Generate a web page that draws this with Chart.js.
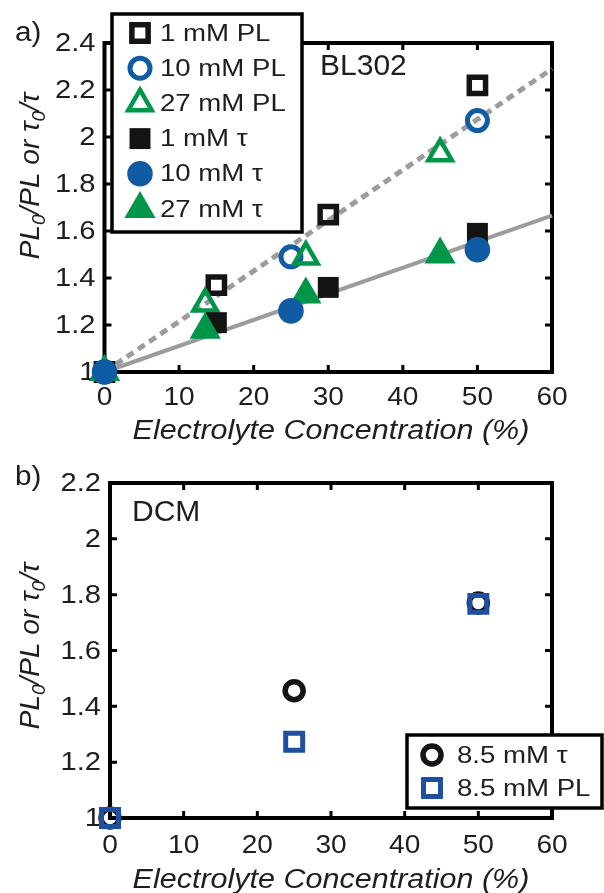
<!DOCTYPE html>
<html><head><meta charset="utf-8">
<script src="https://cdn.jsdelivr.net/npm/chart.js@4.4.1/dist/chart.umd.min.js"></script>
<style>
html,body{margin:0;padding:0;background:#fff;}
#wrap{position:relative;width:604px;height:893px;overflow:hidden;background:#fff;}
canvas{position:absolute;left:0;}
#c1{top:0}
#c2{top:440px}
</style></head><body>
<div id="wrap"><canvas id="c1" width="604" height="460"></canvas><canvas id="c2" width="604" height="453"></canvas></div>
<script>
// ---------------- data ----------------
const xTicks = [0,10,20,30,40,50,60];
const xTickLabels = ['0','10','20','30','40','50','60'];
const yTicksA = [1,1.2,1.4,1.6,1.8,2,2.2,2.4];
const yTickLabelsA = ['1','1.2','1.4','1.6','1.8','2','2.2','2.4'];
const yTicksB = [1,1.2,1.4,1.6,1.8,2,2.2];
const yTickLabelsB = ['1','1.2','1.4','1.6','1.8','2','2.2'];

// panel a) BL302
const conc1mM  = [0,15,30,50];
const pl1mM    = [1,1.37,1.67,2.22];
const tau1mM   = [1,1.21,1.36,1.59];
const conc10mM = [0,25,50];
const pl10mM   = [1,1.49,2.07];
const tau10mM  = [1,1.26,1.52];
const conc27mM = [0,13.5,27,45];
const pl27mM   = [1,1.29,1.49,1.93];
const tau27mM  = [1,1.18,1.33,1.50];
const fitX     = [0,60];
const fitPL    = [1,2.29];
const fitTau   = [1,1.665];

// panel b) DCM
const concDCM = [0,25,50];
const tauDCM  = [1,1.456,1.77];
const plDCM   = [1,1.273,1.767];

const legendA = ['1 mM PL','10 mM PL','27 mM PL','1 mM τ','10 mM τ','27 mM τ'];
const legendB = ['8.5 mM τ','8.5 mM PL'];
const xTitle = 'Electrolyte Concentration (%)';

// ---------------- styles ----------------
const BLACK='#141414', BLUE='#0f5ca4', GREEN='#00964a', GRAY='#9c9c9c', BLUE2='#1f4fa1', TEXT='#1e1e1e';
const FAM='"Liberation Sans", Arial, Helvetica, sans-serif';
const CLEAR='rgba(0,0,0,0)';

function pts(xs, ys){ return xs.map((x,i)=>({x:x, y:ys[i]})); }

function txt(ctx,s,x,y,font,align,base,sx){
  ctx.save(); ctx.translate(x,y); ctx.scale(sx||1,1);
  ctx.font=font; ctx.textAlign=align; ctx.textBaseline=base; ctx.fillStyle=TEXT;
  ctx.fillText(s,0,0); ctx.restore();
}

function drawYTitle(ctx, x, cy){
  const main='italic 28px '+FAM, sub='italic 19px '+FAM;
  const parts=[['PL',0],['0',1],['/PL or τ',0],['0',1],['/τ',0]];
  ctx.save();
  let total=0;
  parts.forEach(p=>{ctx.font=p[1]?sub:main; total+=ctx.measureText(p[0]).width;});
  ctx.translate(x,cy); ctx.rotate(-Math.PI/2);
  ctx.fillStyle=TEXT; ctx.textAlign='left'; ctx.textBaseline='alphabetic';
  let cx=-total/2;
  parts.forEach(p=>{ctx.font=p[1]?sub:main; ctx.fillText(p[0],cx,p[1]?6:0); cx+=ctx.measureText(p[0]).width;});
  ctx.restore();
}

function markerAt(ctx, style, r, bw, color, filled, x, y){
  ctx.save();
  ctx.fillStyle = filled?color:CLEAR; ctx.strokeStyle=color; ctx.lineWidth=bw;
  if (Chart.helpers && Chart.helpers.drawPoint){
    Chart.helpers.drawPoint(ctx,{pointStyle:style,radius:r,rotation:0,borderWidth:bw},x,y);
  }
  ctx.restore();
}

function axesPlugin(cfg){
  return {
    id:'axesFrame',
    beforeDatasetsDraw(chart){
      const ctx=chart.ctx, a=chart.chartArea, xs=chart.scales.x, ys=chart.scales.y;
      const tf='26px '+FAM;
      cfg.yTicks.forEach((v,i)=>txt(ctx,cfg.yLabels[i],a.left-9,ys.getPixelForValue(v)+1,tf,'right','middle',1.12));
      xTicks.forEach((v,i)=>txt(ctx,xTickLabels[i],xs.getPixelForValue(v),a.bottom+cfg.xLabGap,tf,'center','alphabetic',1.08));
      txt(ctx,xTitle,331,cfg.xTitleY,'italic 27px '+FAM,'center','alphabetic',1.13);
      drawYTitle(ctx,39,cfg.yTitleCY);
      txt(ctx,cfg.panel,15,cfg.panelY,'27px '+FAM,'left','alphabetic',1.1);
      txt(ctx,cfg.inset,cfg.insetX,cfg.insetY,'30px '+FAM,'left','alphabetic',1);
      ctx.save();
      ctx.strokeStyle='#000'; ctx.lineWidth=4;
      ctx.strokeRect(a.left,a.top,a.right-a.left,a.bottom-a.top);
      ctx.lineWidth=3; ctx.beginPath();
      xTicks.slice(1,-1).forEach(v=>{const px=xs.getPixelForValue(v);
        ctx.moveTo(px,a.bottom); ctx.lineTo(px,a.bottom-7);
        ctx.moveTo(px,a.top); ctx.lineTo(px,a.top+7);});
      cfg.yTicks.slice(1,-1).forEach(v=>{const py=ys.getPixelForValue(v);
        ctx.moveTo(a.left,py); ctx.lineTo(a.left+7,py);
        ctx.moveTo(a.right,py); ctx.lineTo(a.right-7,py);});
      ctx.stroke(); ctx.restore();
    },
    afterDraw(chart){
      const ctx=chart.ctx, L=cfg.legend;
      ctx.save();
      ctx.fillStyle='#fff'; ctx.fillRect(L.x,L.y,L.w,L.h);
      ctx.strokeStyle='#000'; ctx.lineWidth=3.5; ctx.strokeRect(L.x,L.y,L.w,L.h);
      ctx.restore();
      L.items.forEach((it,i)=>{
        const y=L.y0+i*L.dy;
        const ds=chart.data.datasets[it];
        markerAt(ctx,ds.pointStyle,ds.pointRadius,ds.pointBorderWidth,ds.pointBorderWidth>0?ds.pointBorderColor:ds.pointBackgroundColor,ds.pointBorderWidth===0,L.mx,y);
        txt(ctx,L.labels[i],L.tx,y+1,'24px '+FAM,'left','middle',1.15);
      });
    }
  };
}

function pointDs(label,xs,ys,style,r,bw,color,filled,order){
  return {label:label,data:pts(xs,ys),showLine:false,pointStyle:style,pointRadius:r,pointHoverRadius:r,
    pointBorderWidth:bw,pointBorderColor:color,pointBackgroundColor:filled?color:CLEAR,order:order,clip:false};
}
function lineDs(xs,ys,width,dash,order){
  return {label:'fit',data:pts(xs,ys),showLine:true,borderColor:GRAY,borderWidth:width,borderDash:dash,
    pointRadius:0,pointHoverRadius:0,order:order,clip:false,fill:false,tension:0};
}

const baseOpts=(pad,ymin,ymax)=>({
  responsive:false, animation:false, devicePixelRatio:1, events:[],
  layout:{padding:pad},
  plugins:{legend:{display:false},tooltip:{enabled:false}},
  scales:{
    x:{type:'linear',display:false,min:0,max:60},
    y:{type:'linear',display:false,min:ymin,max:ymax}
  }
});

// panel a
new Chart(document.getElementById('c1'),{
  type:'scatter',
  data:{datasets:[
    pointDs(legendA[0],conc1mM,pl1mM,'rect',11.5,5.5,BLACK,false,5),
    pointDs(legendA[1],conc10mM,pl10mM,'circle',10,5,BLUE,false,4),
    pointDs(legendA[2],conc27mM,pl27mM,'triangle',13.5,4.5,GREEN,false,3),
    pointDs(legendA[3],conc1mM,tau1mM,'rect',14.8,0,BLACK,true,2),
    pointDs(legendA[4],conc10mM,tau10mM,'circle',12.8,0,BLUE,true,0),
    pointDs(legendA[5],conc27mM,tau27mM,'triangle',18,0,GREEN,true,1),
    lineDs(fitX,fitPL,5,[8,5.5],7),
    lineDs(fitX,fitTau,4,[],6)
  ]},
  options:baseOpts({left:104.5,right:52,top:43,bottom:88},1,2.4),
  plugins:[axesPlugin({yTicks:yTicksA,yLabels:yTickLabelsA,xLabGap:33,xTitleY:439,yTitleCY:176,
    panel:'a)',panelY:41,inset:'BL302',insetX:320,insetY:75,
    legend:{x:112,y:14,w:190,h:218,mx:140,tx:160,y0:33,dy:35.2,items:[0,1,2,3,4,5],labels:legendA}})]
});

// panel b
new Chart(document.getElementById('c2'),{
  type:'scatter',
  data:{datasets:[
    pointDs(legendB[0],concDCM,tauDCM,'circle',9,5.5,BLACK,false,1),
    pointDs(legendB[1],concDCM,plDCM,'rect',12,5,BLUE2,false,0)
  ]},
  options:baseOpts({left:110,right:52,top:43,bottom:75},1,2.2),
  plugins:[axesPlugin({yTicks:yTicksB,yLabels:yTickLabelsB,xLabGap:35,xTitleY:448,yTitleCY:206,
    panel:'b)',panelY:45,inset:'DCM',insetX:132,insetY:81,
    legend:{x:407,y:295,w:195,h:73,mx:432,tx:457,y0:315,dy:33,items:[0,1],labels:legendB}})]
});
</script>
</body></html>
